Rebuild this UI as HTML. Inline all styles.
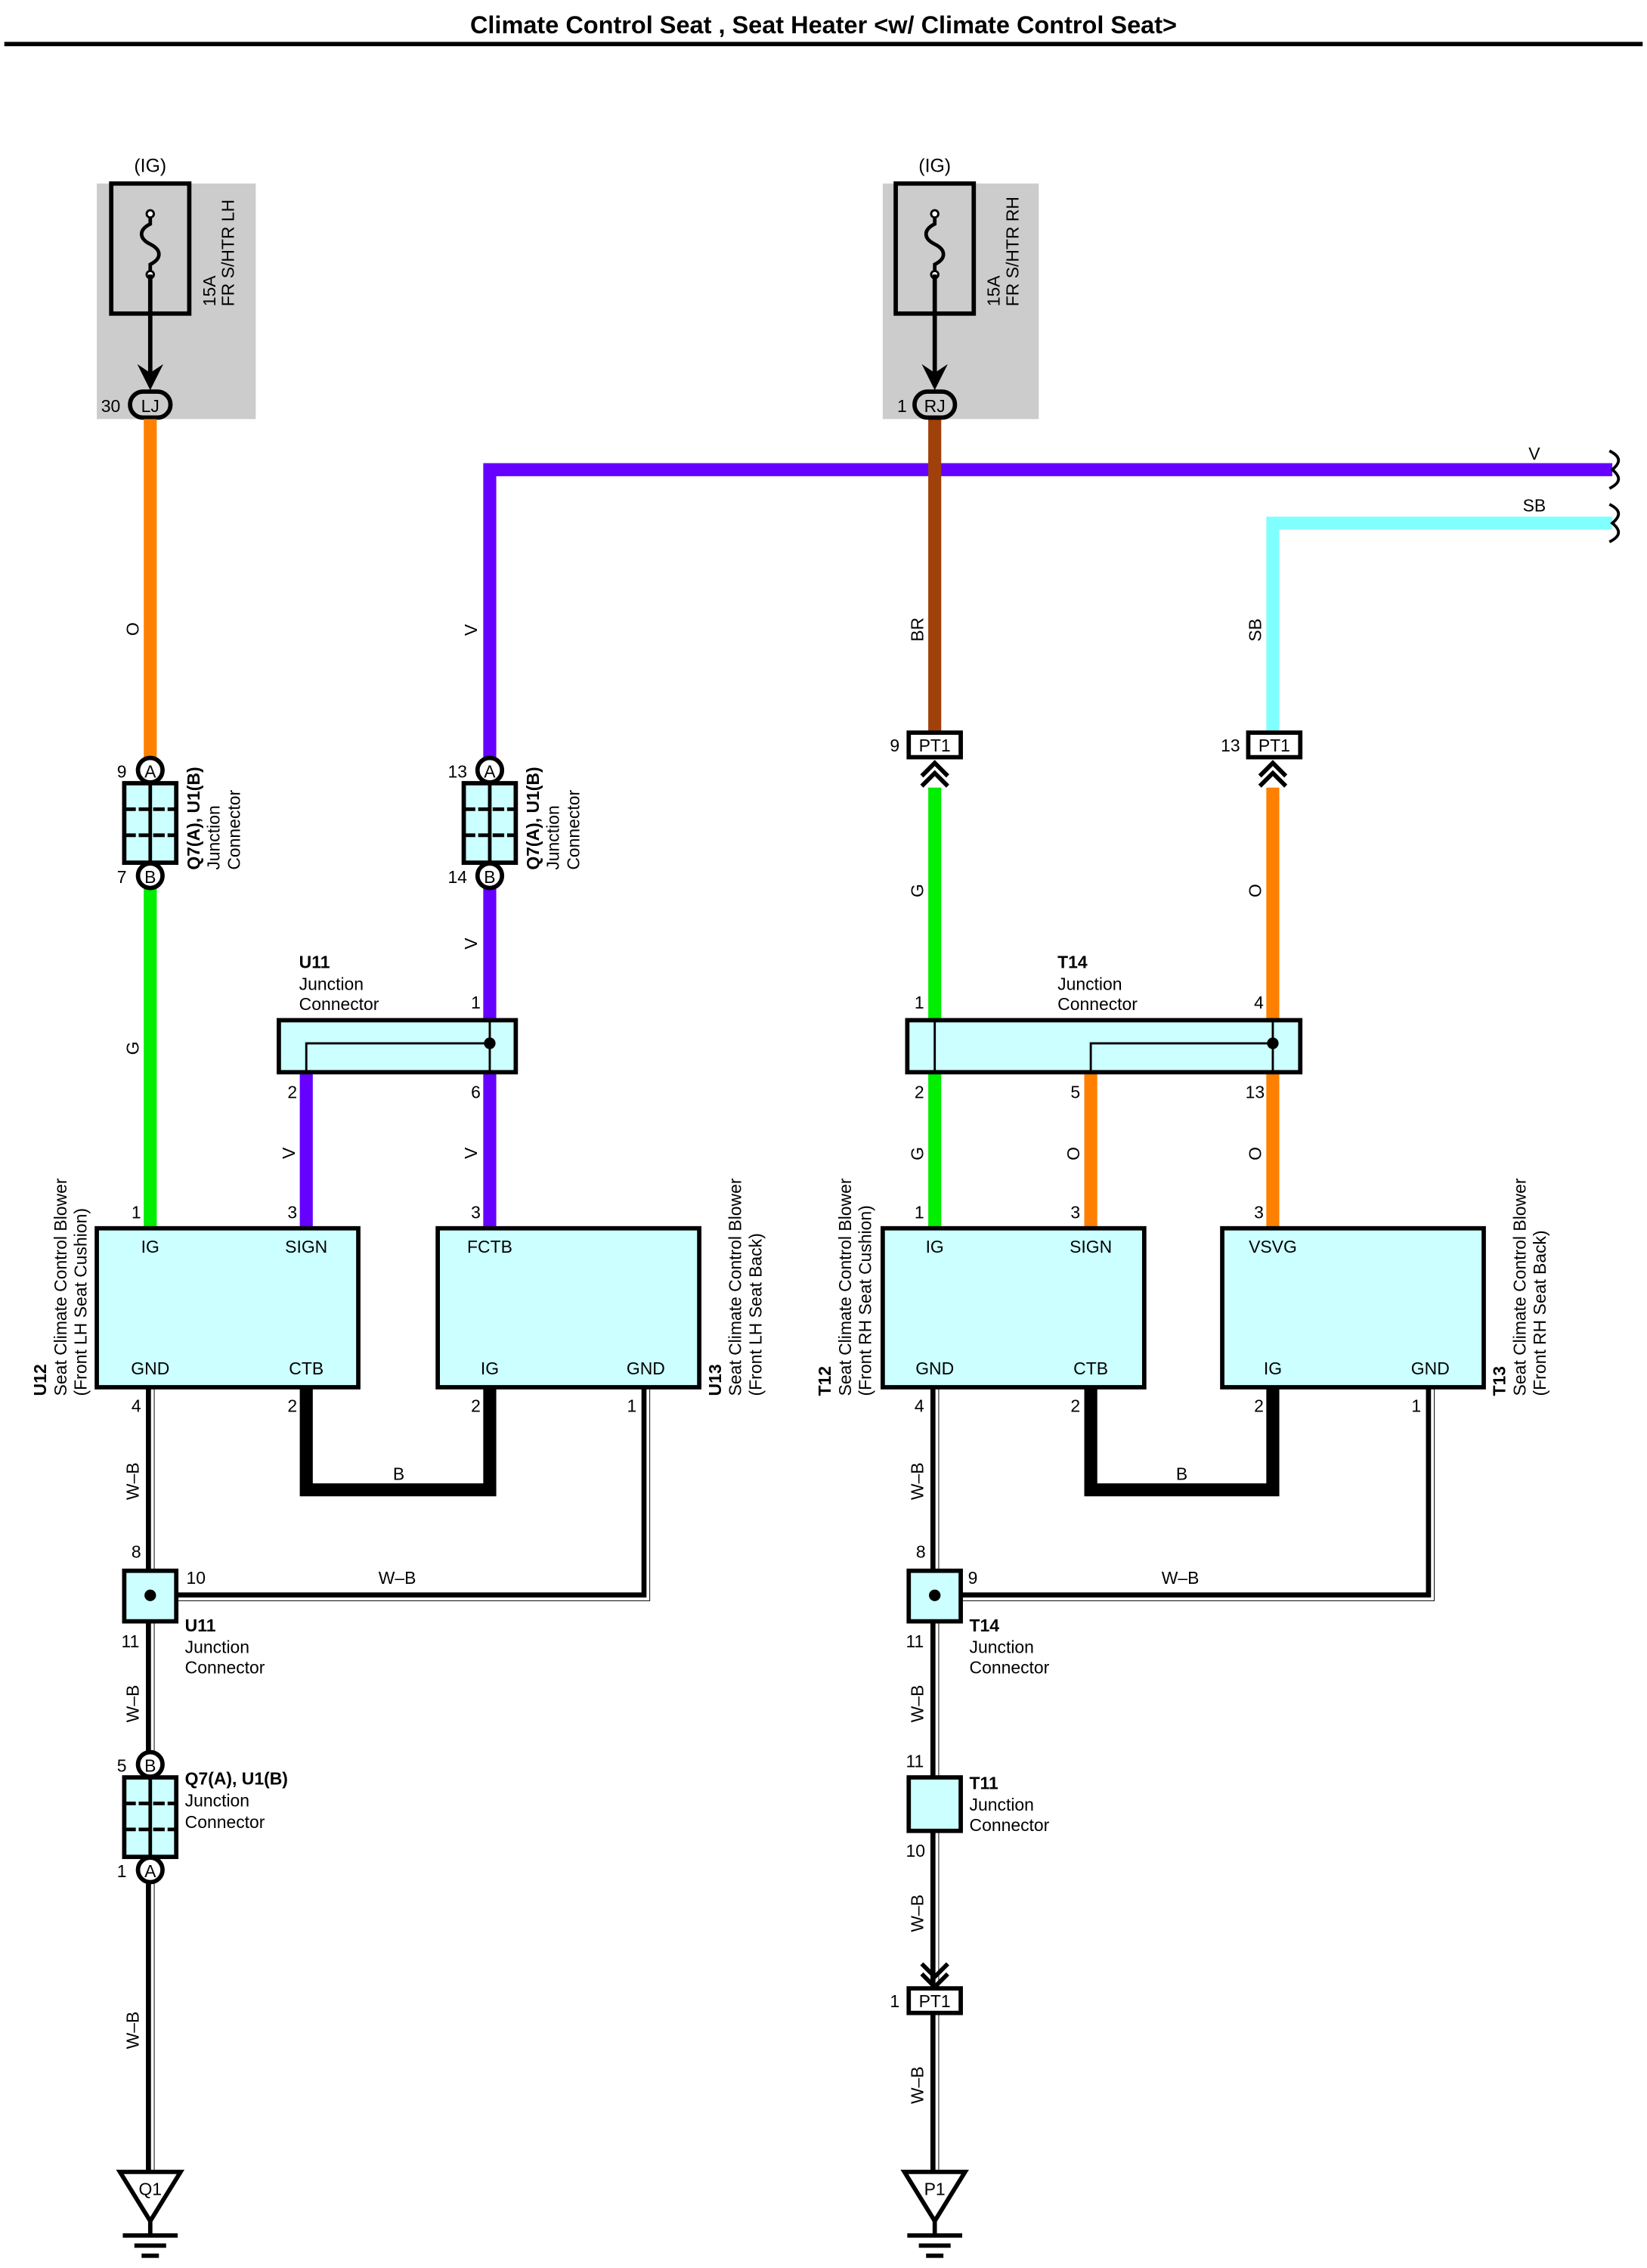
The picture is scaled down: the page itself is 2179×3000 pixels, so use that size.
<!DOCTYPE html>
<html><head><meta charset="utf-8"><style>
html,body{margin:0;padding:0;background:#fff;}
svg{display:block;}
text{font-family:"Liberation Sans",sans-serif;fill:#000;}
</style></head><body>
<svg width="2179" height="3000" viewBox="0 0 1140 1569.5" preserveAspectRatio="none" xmlns="http://www.w3.org/2000/svg">
<defs>
<g id="jc">
<rect x="-18" y="0" width="36" height="55" fill="#ccffff" stroke="#000" stroke-width="3"/>
<line x1="0" y1="0" x2="0" y2="55" stroke="#000" stroke-width="2.5"/>
<line x1="-18" y1="18" x2="18" y2="18" stroke="#000" stroke-width="2.5" stroke-dasharray="8,2"/>
<line x1="-18" y1="36" x2="18" y2="36" stroke="#000" stroke-width="2.5" stroke-dasharray="8,2"/>
</g>
<g id="gnd">
<polygon points="-21,0 21,0 0,34" fill="#fff" stroke="#000" stroke-width="3"/>
<line x1="0" y1="34" x2="0" y2="44" stroke="#000" stroke-width="3"/>
<line x1="-19" y1="44" x2="19" y2="44" stroke="#000" stroke-width="3"/>
<line x1="-11" y1="51" x2="11" y2="51" stroke="#000" stroke-width="3"/>
<line x1="-6" y1="58" x2="6" y2="58" stroke="#000" stroke-width="3"/>
</g>
</defs>

<text x="570" y="23" font-size="17" font-weight="bold" text-anchor="middle">Climate Control Seat , Seat Heater &lt;w/ Climate Control Seat&gt;</text>
<line x1="3" y1="30.5" x2="1137" y2="30.5" stroke="#000" stroke-width="3"/>

<!-- Fuse boxes -->
<rect x="67" y="127" width="110" height="163" fill="#cccccc"/>
<rect x="77" y="127" width="54" height="90" fill="#cccccc" stroke="#000" stroke-width="3"/>
<path d="M104,147 v8 c-8,4 -8,10 0,14 c8,4 8,10 0,14 v8 v35" fill="none" stroke="#000" stroke-width="2.5"/>
<circle cx="104" cy="148" r="2.5" fill="#fff" stroke="#000" stroke-width="1.5"/>
<circle cx="104" cy="190" r="2.5" fill="#fff" stroke="#000" stroke-width="1.5"/>
<line x1="104" y1="190" x2="104" y2="262" stroke="#000" stroke-width="3"/>
<path d="M95,252 L104,270 L113,252 L104,258Z" fill="#000"/>
<text x="104" y="119" font-size="13" text-anchor="middle">(IG)</text>
<text transform="translate(149,212) rotate(-90)" font-size="12">15A</text>
<text transform="translate(162,212) rotate(-90)" font-size="12">FR S/HTR LH</text>
<rect x="90" y="271" width="28" height="18" rx="9" fill="#ccc" stroke="#000" stroke-width="3"/>
<text x="104" y="285" font-size="12" text-anchor="middle">LJ</text>
<text x="70" y="285" font-size="12">30</text>

<rect x="611" y="127" width="108" height="163" fill="#cccccc"/>
<rect x="620" y="127" width="54" height="90" fill="#cccccc" stroke="#000" stroke-width="3"/>
<path d="M647,147 v8 c-8,4 -8,10 0,14 c8,4 8,10 0,14 v8" fill="none" stroke="#000" stroke-width="2.5"/>
<circle cx="647" cy="148" r="2.5" fill="#fff" stroke="#000" stroke-width="1.5"/>
<circle cx="647" cy="190" r="2.5" fill="#fff" stroke="#000" stroke-width="1.5"/>
<line x1="647" y1="190" x2="647" y2="262" stroke="#000" stroke-width="3"/>
<path d="M638,252 L647,270 L656,252 L647,258Z" fill="#000"/>
<text x="647" y="119" font-size="13" text-anchor="middle">(IG)</text>
<text transform="translate(692,212) rotate(-90)" font-size="12">15A</text>
<text transform="translate(705,212) rotate(-90)" font-size="12">FR S/HTR RH</text>

<!-- Colored wires -->
<g fill="none" stroke-width="9" stroke-linejoin="miter">
<line x1="104" y1="290" x2="104" y2="526" stroke="#ff8000"/>
<line x1="104" y1="614" x2="104" y2="852" stroke="#00ee00"/>
<polyline points="1116,325 339,325 339,526" stroke="#6600ff"/>
<line x1="339" y1="614" x2="339" y2="706" stroke="#6600ff"/>
<line x1="212" y1="742" x2="212" y2="852" stroke="#6600ff"/>
<line x1="339" y1="742" x2="339" y2="852" stroke="#6600ff"/>
<polyline points="1116,362 881,362 881,508" stroke="#80ffff"/>
<line x1="647" y1="290" x2="647" y2="508" stroke="#a0400a"/>
<line x1="647" y1="545" x2="647" y2="706" stroke="#00ee00"/>
<line x1="881" y1="545" x2="881" y2="706" stroke="#ff8000"/>
<line x1="647" y1="742" x2="647" y2="852" stroke="#00ee00"/>
<line x1="755" y1="742" x2="755" y2="852" stroke="#ff8000"/>
<line x1="881" y1="742" x2="881" y2="852" stroke="#ff8000"/>
<polyline points="212,958 212,1031 339,1031 339,958" stroke="#000"/>
<polyline points="755,958 755,1031 881,1031 881,958" stroke="#000"/>
</g>
<rect x="633" y="271" width="28" height="18" rx="9" fill="#ccc" stroke="#000" stroke-width="3"/>
<text x="647" y="285" font-size="12" text-anchor="middle">RJ</text>
<text x="621" y="285" font-size="12">1</text>

<!-- break symbols -->
<path d="M1114,312 c8,4 8,8 2,13 c6,5 6,9 -2,13" fill="none" stroke="#000" stroke-width="2"/>
<path d="M1114,349 c8,4 8,8 2,13 c6,5 6,9 -2,13" fill="none" stroke="#000" stroke-width="2"/>
<text x="1058" y="318" font-size="12">V</text>
<text x="1054" y="354" font-size="12">SB</text>

<!-- W-B wires -->
<g fill="none">
<g stroke="#000" stroke-width="6">
<line x1="104" y1="960" x2="104" y2="1503"/>
<polyline points="447,960 447,1105 122,1105"/>
<line x1="647" y1="960" x2="647" y2="1503"/>
<polyline points="990,960 990,1105 665,1105"/>
</g>
<g stroke="#fff" stroke-width="2">
<line x1="105.5" y1="960" x2="105.5" y2="1503"/>
<polyline points="448.5,960 448.5,1106.5 122,1106.5"/>
<line x1="648.5" y1="960" x2="648.5" y2="1503"/>
<polyline points="991.5,960 991.5,1106.5 665,1106.5"/>
</g>
</g>

<!-- wire labels -->
<g font-size="12">
<text transform="translate(96,440) rotate(-90)">O</text>
<text transform="translate(96,730) rotate(-90)">G</text>
<text transform="translate(330,440) rotate(-90)">V</text>
<text transform="translate(330,657) rotate(-90)">V</text>
<text transform="translate(204,802) rotate(-90)">V</text>
<text transform="translate(330,802) rotate(-90)">V</text>
<text transform="translate(96,1038) rotate(-90)">W–B</text>
<text transform="translate(96,1192) rotate(-90)">W–B</text>
<text transform="translate(96,1418) rotate(-90)">W–B</text>
<text x="262" y="1096">W–B</text>
<text x="272" y="1024">B</text>
<text transform="translate(639,444) rotate(-90)">BR</text>
<text transform="translate(873,444) rotate(-90)">SB</text>
<text transform="translate(639,621) rotate(-90)">G</text>
<text transform="translate(873,621) rotate(-90)">O</text>
<text transform="translate(639,803) rotate(-90)">G</text>
<text transform="translate(747,803) rotate(-90)">O</text>
<text transform="translate(873,803) rotate(-90)">O</text>
<text transform="translate(639,1038) rotate(-90)">W–B</text>
<text transform="translate(639,1192) rotate(-90)">W–B</text>
<text transform="translate(639,1337) rotate(-90)">W–B</text>
<text transform="translate(639,1456) rotate(-90)">W–B</text>
<text x="804" y="1096">W–B</text>
<text x="814" y="1024">B</text>
</g>

<!-- Q7 junction connectors -->
<use href="#jc" x="104" y="542"/>
<circle cx="104" cy="533" r="8.5" fill="#fff" stroke="#000" stroke-width="3"/>
<circle cx="104" cy="606" r="8.5" fill="#fff" stroke="#000" stroke-width="3"/>
<use href="#jc" x="339" y="542"/>
<circle cx="339" cy="533" r="8.5" fill="#fff" stroke="#000" stroke-width="3"/>
<circle cx="339" cy="606" r="8.5" fill="#fff" stroke="#000" stroke-width="3"/>
<use href="#jc" x="104" y="1230"/>
<circle cx="104" cy="1221" r="8.5" fill="#fff" stroke="#000" stroke-width="3"/>
<circle cx="104" cy="1294" r="8.5" fill="#fff" stroke="#000" stroke-width="3"/>
<g font-size="12" text-anchor="middle">
<text x="104" y="538">A</text><text x="104" y="611">B</text>
<text x="339" y="538">A</text><text x="339" y="611">B</text>
<text x="104" y="1226">B</text><text x="104" y="1299">A</text>
</g>
<g font-size="12">
<text x="81" y="538">9</text><text x="81" y="611">7</text>
<text x="310" y="538">13</text><text x="310" y="611">14</text>
<text x="81" y="1226">5</text><text x="81" y="1299">1</text>
<text transform="translate(138,602) rotate(-90)" font-weight="bold">Q7(A), U1(B)</text>
<text transform="translate(152,602) rotate(-90)">Junction</text>
<text transform="translate(166,602) rotate(-90)">Connector</text>
<text transform="translate(373,602) rotate(-90)" font-weight="bold">Q7(A), U1(B)</text>
<text transform="translate(387,602) rotate(-90)">Junction</text>
<text transform="translate(401,602) rotate(-90)">Connector</text>
<text x="128" y="1235" font-weight="bold">Q7(A), U1(B)</text>
<text x="128" y="1250">Junction</text>
<text x="128" y="1265">Connector</text>
</g>

<!-- U11 junction -->
<rect x="193" y="706" width="164" height="36" fill="#ccffff" stroke="#000" stroke-width="3"/>
<polyline points="339,706 339,742" stroke="#000" stroke-width="1.5" fill="none"/>
<polyline points="339,722 212,722 212,742" stroke="#000" stroke-width="1.5" fill="none"/>
<circle cx="339" cy="722" r="4" fill="#000"/>
<g font-size="12">
<text x="207" y="670" font-weight="bold">U11</text>
<text x="207" y="685">Junction</text>
<text x="207" y="699">Connector</text>
<text x="326" y="698">1</text>
<text x="199" y="760">2</text>
<text x="326" y="760">6</text>
</g>

<!-- T14 junction -->
<rect x="628" y="706" width="272" height="36" fill="#ccffff" stroke="#000" stroke-width="3"/>
<line x1="647" y1="706" x2="647" y2="742" stroke="#000" stroke-width="1.5"/>
<line x1="881" y1="706" x2="881" y2="742" stroke="#000" stroke-width="1.5"/>
<polyline points="881,722 755,722 755,742" stroke="#000" stroke-width="1.5" fill="none"/>
<circle cx="881" cy="722" r="4" fill="#000"/>
<g font-size="12">
<text x="732" y="670" font-weight="bold">T14</text>
<text x="732" y="685">Junction</text>
<text x="732" y="699">Connector</text>
<text x="633" y="698">1</text>
<text x="868" y="698">4</text>
<text x="633" y="760">2</text>
<text x="741" y="760">5</text>
<text x="862" y="760">13</text>
</g>

<!-- PT1 connectors -->
<g stroke="#000" stroke-width="3">
<rect x="629" y="507" width="36" height="17" fill="#fff"/>
<rect x="864" y="507" width="36" height="17" fill="#fff"/>
<rect x="629" y="1376" width="36" height="17" fill="#fff"/>
</g>
<g fill="none" stroke="#000" stroke-width="3">
<polyline points="638,537 647,528 656,537"/><polyline points="638,544 647,535 656,544"/>
<polyline points="872,537 881,528 890,537"/><polyline points="872,544 881,535 890,544"/>
<polyline points="638,1359 647,1368 656,1359"/><polyline points="638,1366 647,1375 656,1366"/>
</g>
<g font-size="12">
<text x="647" y="520" text-anchor="middle">PT1</text>
<text x="882" y="520" text-anchor="middle">PT1</text>
<text x="647" y="1389" text-anchor="middle">PT1</text>
<text x="616" y="520">9</text>
<text x="845" y="520">13</text>
<text x="616" y="1389">1</text>
</g>

<!-- U11 small & T14 small & T11 -->
<rect x="86" y="1087" width="36" height="35" fill="#ccffff" stroke="#000" stroke-width="3"/>
<circle cx="104" cy="1104" r="4" fill="#000"/>
<rect x="629" y="1087" width="36" height="35" fill="#ccffff" stroke="#000" stroke-width="3"/>
<circle cx="647" cy="1104" r="4" fill="#000"/>
<rect x="629" y="1230" width="36" height="37" fill="#ccffff" stroke="#000" stroke-width="3"/>
<g font-size="12">
<text x="91" y="1078">8</text><text x="129" y="1096">10</text><text x="84" y="1140">11</text>
<text x="128" y="1129" font-weight="bold">U11</text>
<text x="128" y="1144">Junction</text>
<text x="128" y="1158">Connector</text>
<text x="634" y="1078">8</text><text x="670" y="1096">9</text><text x="627" y="1140">11</text>
<text x="671" y="1129" font-weight="bold">T14</text>
<text x="671" y="1144">Junction</text>
<text x="671" y="1158">Connector</text>
<text x="627" y="1223">11</text><text x="627" y="1285">10</text>
<text x="671" y="1238" font-weight="bold">T11</text>
<text x="671" y="1253">Junction</text>
<text x="671" y="1267">Connector</text>
</g>

<!-- Component boxes -->
<g fill="#ccffff" stroke="#000" stroke-width="3">
<rect x="67" y="850" width="181" height="110"/>
<rect x="303" y="850" width="181" height="110"/>
<rect x="611" y="850" width="181" height="110"/>
<rect x="846" y="850" width="181" height="110"/>
</g>
<g font-size="12" text-anchor="middle">
<text x="104" y="867">IG</text><text x="212" y="867">SIGN</text>
<text x="104" y="951">GND</text><text x="212" y="951">CTB</text>
<text x="339" y="867">FCTB</text>
<text x="339" y="951">IG</text><text x="447" y="951">GND</text>
<text x="647" y="867">IG</text><text x="755" y="867">SIGN</text>
<text x="647" y="951">GND</text><text x="755" y="951">CTB</text>
<text x="881" y="867">VSVG</text>
<text x="881" y="951">IG</text><text x="990" y="951">GND</text>
</g>
<g font-size="12">
<text x="91" y="843">1</text><text x="199" y="843">3</text>
<text x="91" y="977">4</text><text x="199" y="977">2</text>
<text x="326" y="843">3</text><text x="326" y="977">2</text><text x="434" y="977">1</text>
<text x="633" y="843">1</text><text x="741" y="843">3</text>
<text x="633" y="977">4</text><text x="741" y="977">2</text>
<text x="868" y="843">3</text><text x="868" y="977">2</text><text x="977" y="977">1</text>
<text transform="translate(32,966) rotate(-90)" font-weight="bold">U12</text>
<text transform="translate(46,966) rotate(-90)">Seat Climate Control Blower</text>
<text transform="translate(60,966) rotate(-90)">(Front LH Seat Cushion)</text>
<text transform="translate(499,966) rotate(-90)" font-weight="bold">U13</text>
<text transform="translate(513,966) rotate(-90)">Seat Climate Control Blower</text>
<text transform="translate(527,966) rotate(-90)">(Front LH Seat Back)</text>
<text transform="translate(575,966) rotate(-90)" font-weight="bold">T12</text>
<text transform="translate(589,966) rotate(-90)">Seat Climate Control Blower</text>
<text transform="translate(603,966) rotate(-90)">(Front RH Seat Cushion)</text>
<text transform="translate(1042,966) rotate(-90)" font-weight="bold">T13</text>
<text transform="translate(1056,966) rotate(-90)">Seat Climate Control Blower</text>
<text transform="translate(1070,966) rotate(-90)">(Front RH Seat Back)</text>
</g>

<!-- grounds -->
<use href="#gnd" x="104" y="1503"/>
<use href="#gnd" x="647" y="1503"/>
<text x="104" y="1519" font-size="12" text-anchor="middle">Q1</text>
<text x="647" y="1519" font-size="12" text-anchor="middle">P1</text>
</svg>
</body></html>
